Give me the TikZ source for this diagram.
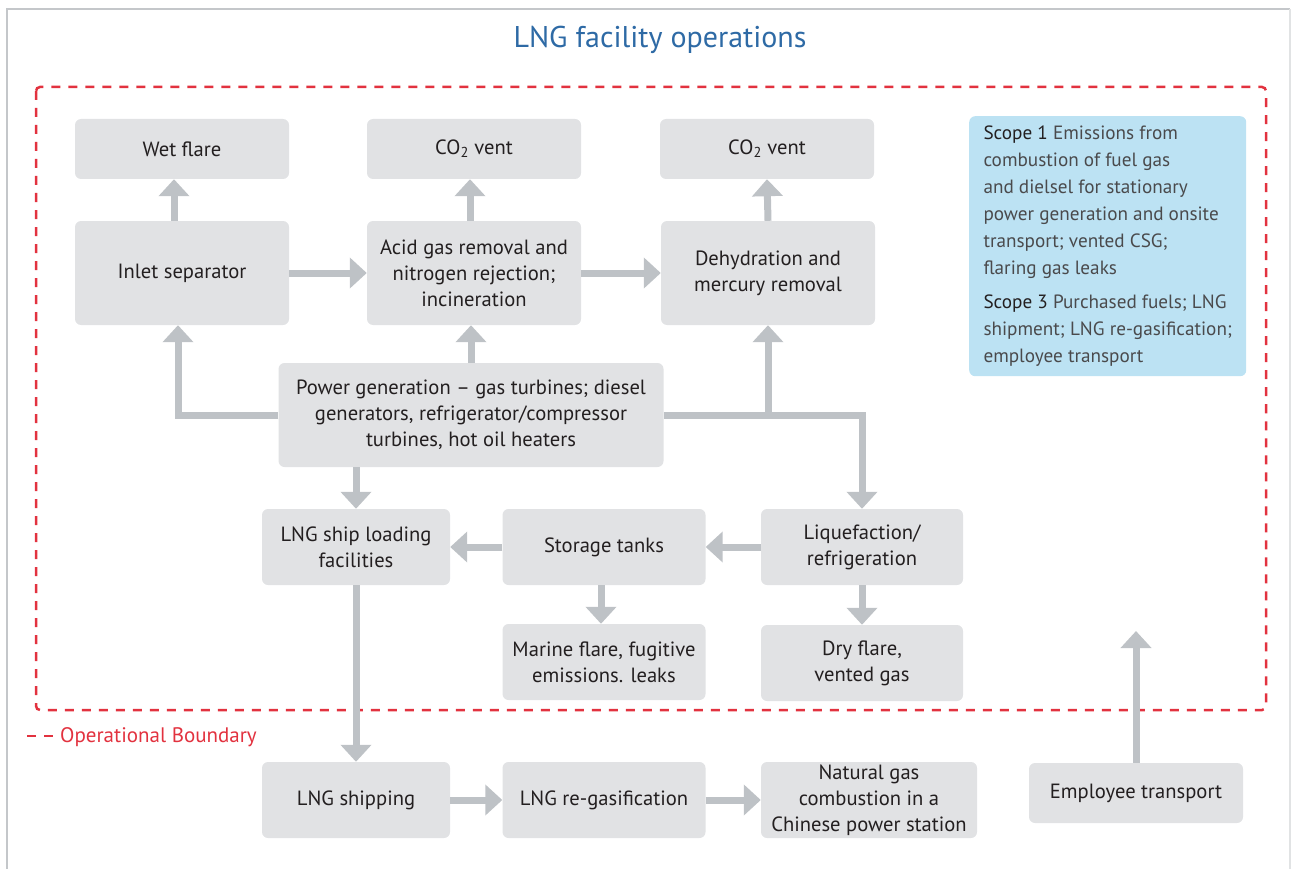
\documentclass[tikz,border=0pt]{standalone}
\usepackage{fontspec}
\setmainfont{PT Sans}
\usetikzlibrary{arrows.meta}
\definecolor{boxgray}{HTML}{E1E2E4}
\definecolor{arrowgray}{HTML}{BEC2C6}
\definecolor{framegray}{HTML}{C4C7CA}
\definecolor{scopeblue}{HTML}{BCE2F3}
\definecolor{titleblue}{HTML}{2E6AA5}
\definecolor{boundaryred}{HTML}{E2323F}
\definecolor{textdark}{HTML}{231F20}
\definecolor{scopetext}{HTML}{4A4A4C}
\begin{document}
\begin{tikzpicture}[x=1pt, y=-1pt,
  box/.style={fill=boxgray, rounded corners=6pt, align=center, text=textdark, inner sep=0pt, font=\fontsize{20.6}{26}\selectfont},
  flow/.style={draw=arrowgray, line width=7pt, -{Triangle[width=30pt,length=17pt]}},
  boundary/.style={draw=boundaryred, line width=2.5pt, dash pattern=on 9pt off 8pt}]
\useasboundingbox (0,0) rectangle (1292,869);
\draw[framegray, line width=2.5pt] (7,869) -- (7,9) -- (1290,9);
\draw[framegray!50, line width=1.5pt] (1290,9) -- (1290,869);
\node[text=titleblue, font=\fontsize{30}{34}\selectfont] (title) at (660,40) {LNG facility operations};
\draw[boundary, rounded corners=4pt] (36,87) rectangle (1266,710);
\draw[boundary] (27,736) -- (56,736);
\node[anchor=west, text=boundaryred, inner sep=2pt, font=\fontsize{21}{24}\selectfont] (legend) at (58,737) {Operational Boundary};
\node[box, minimum width=214, minimum height=60] (P_0_0) at (182,149) {Wet flare};
\node[box, minimum width=214, minimum height=60] (P_0_1) at (474,149) {CO\textsubscript{2} vent};
\node[box, minimum width=214, minimum height=60] (P_0_2) at (767,149) {CO\textsubscript{2} vent};
\node[box, minimum width=214, minimum height=104] (P_1_0) at (182,273) {Inlet separator};
\node[box, minimum width=214, minimum height=104] (P_1_1) at (474,273) {Acid gas removal and\\nitrogen rejection;\\incineration};
\node[box, minimum width=214, minimum height=104] (P_1_2) at (768,273) {Dehydration and\\mercury removal};
\node[box, minimum width=385, minimum height=104] (P_2_1) at (471,415) {Power generation -- gas turbines; diesel\\generators, refrigerator/compressor\\turbines, hot oil heaters};
\node[box, minimum width=188, minimum height=76] (P_3_0) at (356,547) {LNG ship loading\\facilities};
\node[box, minimum width=203, minimum height=76] (P_3_1) at (604,547) {Storage tanks};
\node[box, minimum width=202, minimum height=76] (P_3_2) at (862,547) {Liquefaction/\\refrigeration};
\node[box, minimum width=203, minimum height=76] (P_4_1) at (604,662) {Marine flare, fugitive\\emissions. leaks};
\node[box, minimum width=202, minimum height=76] (P_4_2) at (862,663) {Dry flare,\\vented gas};
\node[box, minimum width=188, minimum height=76] (P_5_0) at (356,800) {LNG shipping};
\node[box, minimum width=203, minimum height=76] (P_5_1) at (604,800) {LNG re-gasification};
\node[box, minimum width=216, minimum height=76] (P_5_2) at (869,800) {Natural gas\\combustion in a\\Chinese power station};
\node[box, minimum width=214, minimum height=60] (P_5_3) at (1136,793) {Employee transport};
\node[fill=scopeblue, rounded corners=6pt, anchor=north west, align=left, inner sep=0pt, minimum width=277, minimum height=260, text=scopetext, font=\fontsize{19.2}{27}\selectfont] (scope) at (969,116) {{\color{textdark}Scope 1} Emissions from\\combustion of fuel gas\\and dielsel for stationary\\power generation and onsite\\transport; vented CSG;\\flaring gas leaks\\[7pt]{\color{textdark}Scope 3} Purchased fuels; LNG\\shipment; LNG re-gasification;\\employee transport};
\coordinate (emp_in) at (1136,631);
\draw[flow] ([xshift=-8]P_1_0.north) -- ([xshift=-8]P_0_0.south);
\draw[flow] ([xshift=-4]P_1_1.north) -- ([xshift=-4]P_0_1.south);
\draw[flow] (P_1_2.north) -- (P_0_2.south);
\draw[flow] (P_1_0) -- (P_1_1);
\draw[flow] (P_1_1) -- (P_1_2);
\draw[flow] (P_2_1.north) -- (P_2_1.north |- P_1_1.south);
\draw[flow] (P_2_1.west) -| ([xshift=-4]P_1_0.south);
\draw[flow] (P_2_1.east) -| (P_3_2.north);
\draw[flow] (P_2_1.east -| P_1_2.south) -- (P_1_2.south);
\draw[flow] (P_2_1.south -| P_3_0.north) -- (P_3_0.north);
\draw[flow] (P_3_2) -- (P_3_1);
\draw[flow] (P_3_1) -- (P_3_0);
\draw[flow] ([xshift=-3]P_3_1.south) -- ([xshift=-3]P_4_1.north);
\draw[flow] (P_3_2) -- (P_4_2);
\draw[flow] (P_3_0) -- (P_5_0);
\draw[flow] (P_5_0) -- (P_5_1);
\draw[flow] (P_5_1) -- (P_5_2);
\draw[flow] (P_5_3) -- (emp_in);
\end{tikzpicture}
\end{document}
